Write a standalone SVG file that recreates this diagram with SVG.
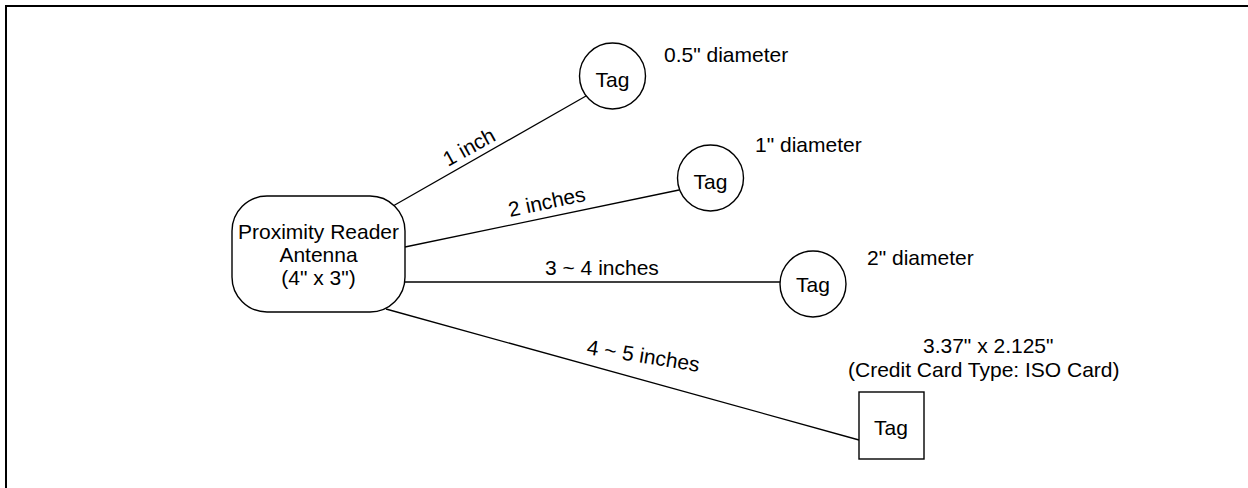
<svg xmlns="http://www.w3.org/2000/svg" width="1248" height="488" viewBox="0 0 1248 488">
<style>
text{font-family:"Liberation Sans",Arial,sans-serif;font-size:21px;fill:#000}
.c{text-anchor:middle}
.shape{fill:#fff;stroke:#000;stroke-width:1.4}
.ln{stroke:#000;stroke-width:1.3;fill:none}
</style>
<rect width="1248" height="488" fill="#fff"/>
<path d="M6 488 V6 H1248" fill="none" stroke="#000" stroke-width="2"/>
<g id="connectors">
<line class="ln" x1="393" y1="206" x2="586" y2="96"/>
<line class="ln" x1="405" y1="247" x2="679" y2="190"/>
<line class="ln" x1="405" y1="282" x2="780" y2="282" stroke-width="2"/>
<line class="ln" x1="386" y1="309" x2="859" y2="440"/>
<text transform="rotate(-29 448 167)" x="448" y="167">1 inch</text>
<text transform="rotate(-12 510 217)" x="510" y="217">2 inches</text>
<text x="545" y="275">3 ~ 4 inches</text>
<text transform="rotate(9 586 354)" x="586" y="354">4 ~ 5 inches</text>
</g>
<g id="reader">
<rect class="shape" x="232" y="196" width="173" height="116" rx="35" ry="35"/>
<text class="c" x="318.5" y="239">Proximity Reader</text>
<text class="c" x="318.5" y="262">Antenna</text>
<text class="c" x="318.5" y="285">(4" x 3")</text>
</g>
<g id="tag1">
<circle class="shape" cx="612.5" cy="76" r="33"/>
<text class="c" x="612.5" y="87">Tag</text>
<text x="664" y="62">0.5" diameter</text>
</g>
<g id="tag2">
<circle class="shape" cx="710.5" cy="178" r="33"/>
<text class="c" x="710.5" y="189">Tag</text>
<text x="755" y="152">1" diameter</text>
</g>
<g id="tag3">
<circle class="shape" cx="813" cy="284" r="33"/>
<text class="c" x="813" y="292">Tag</text>
<text x="867" y="265">2" diameter</text>
</g>
<g id="tag4">
<rect class="shape" x="859" y="392" width="65" height="67" stroke-width="2"/>
<text class="c" x="891" y="435">Tag</text>
<text x="923" y="353">3.37" x 2.125"</text>
<text x="848" y="377">(Credit Card Type: ISO Card)</text>
</g>
</svg>
